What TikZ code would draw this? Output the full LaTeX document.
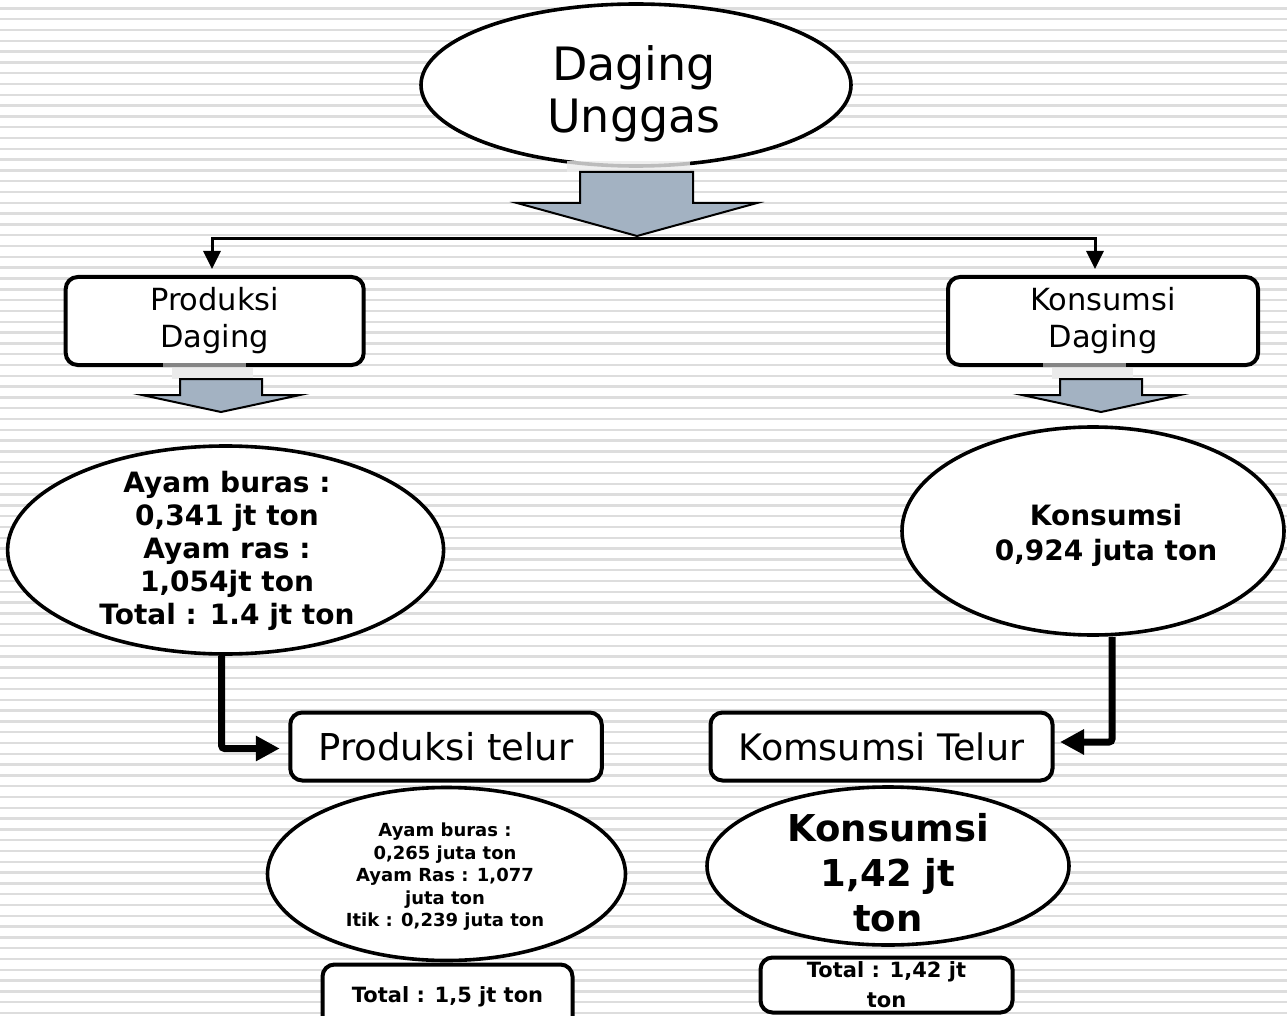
\documentclass[tikz,border=0pt]{standalone}
\usepackage{fontspec}
\setmainfont{DejaVu Sans}
\usetikzlibrary{shapes.geometric,arrows.meta}
\definecolor{arrowfill}{HTML}{A3B2C2}
\definecolor{stripecol}{HTML}{DDDDDD}
\definecolor{shadelight}{HTML}{EBEBEB}
\definecolor{shadedark}{HTML}{858585}
\begin{document}
\begin{tikzpicture}[x=1pt,y=-1pt,
  ell/.style={ellipse,draw=black,line width=3.6pt,fill=white,inner sep=0pt},
  box/.style={rectangle,rounded corners=12pt,draw=black,line width=4pt,fill=white,inner sep=0pt,align=center},
  txt/.style={align=center,inner sep=0pt},
  conn/.style={draw=black,line width=3pt,-{Triangle[length=18pt,width=17pt]}},
  elbow/.style={draw=black,line width=7pt,rounded corners=3pt,-{Triangle[length=24pt,width=24pt]}},
  blockarrow/.style={fill=arrowfill,draw=black,line width=2pt,line join=miter},
  stripe/.style={stripecol,line width=2.4pt}]
\useasboundingbox (0,0) rectangle (1287,1016);
\clip (0,0) rectangle (1287,1016);
\fill[white] (0,0) rectangle (1287,1016);
\foreach \i in {0,...,94}{\draw[stripe] (0,8.5+10.8*\i) -- (1287,8.5+10.8*\i);}

% title
\node[ell,minimum width=430pt,minimum height=162pt] (top) at (636,85) {};
\node[txt,font=\fontsize{46}{52}\selectfont] (toptxt) at (634,94) {Daging\\Unggas};
\fill[shadelight,opacity=0.8] (567,161) rectangle (690,172);
\draw[blockarrow] (580,172) -- (693,172) -- (693,203) -- (757,203) -- (637,236) -- (517,203) -- (580,203) -- cycle;
\coordinate (split) at (637,239);

% second level boxes
\node[box,minimum width=298pt,minimum height=88pt,font=\fontsize{30.5}{37}\selectfont] (pd) at (214.7,321) {Produksi\\Daging};
\node[box,minimum width=310pt,minimum height=88pt,font=\fontsize{30.5}{37}\selectfont] (kd) at (1103,321) {Konsumsi\\Daging};
\draw[conn,shorten >=6pt] (split) -| ([xshift=-2.7pt]pd.north);
\draw[conn,shorten >=6pt] (split) -| ([xshift=-8pt]kd.north);

% small block arrows
\fill[shadedark] (163,363) rectangle (246,367);
\fill[shadelight] (172,368) rectangle (253,379);
\draw[blockarrow] (180,379) -- (262,379) -- (262,395) -- (300,395) -- (221,412) -- (142,395) -- (180,395) -- cycle;
\fill[shadedark] (1043,363) rectangle (1126,367);
\fill[shadelight] (1052,368) rectangle (1133,379);
\draw[blockarrow] (1060,379) -- (1142,379) -- (1142,395) -- (1180,395) -- (1101,412) -- (1022,395) -- (1060,395) -- cycle;

% third level ellipses
\node[ell,minimum width=436pt,minimum height=208pt] (lel) at (225.6,550) {};
\node[txt,font=\fontsize{28}{33}\selectfont\bfseries] (lelt) at (227,551) {Ayam buras :\\0,341 jt ton\\Ayam ras :\\1,054jt ton\\Total : 1.4 jt ton};
\node[ell,minimum width=382pt,minimum height=208pt] (rel) at (1093,531) {};
\node[txt,font=\fontsize{28}{35}\selectfont\bfseries] (relt) at (1106,535) {Konsumsi\\0,924 juta ton};

% egg boxes
\node[box,minimum width=311.5pt,minimum height=68pt,font=\fontsize{37}{44}\selectfont] (pt) at (446,746.5) {Produksi telur};
\node[box,minimum width=342pt,minimum height=68pt,font=\fontsize{36.5}{44}\selectfont] (kt) at (881.5,746.5) {Komsumsi Telur};
\draw[elbow,shorten >=8.5pt] ([xshift=-4pt]lel.south) |- ([yshift=-2pt]pt.west);
\draw[elbow,shorten >=5.5pt] ([xshift=19pt]rel.south) |- ([yshift=4.5pt]kt.east);

% bottom ellipses
\node[ell,minimum width=358pt,minimum height=173pt] (pel) at (446.5,874) {};
\node[txt,font=\fontsize{18}{22.5}\selectfont\bfseries] (pelt) at (445,877) {Ayam buras :\\0,265 juta ton\\Ayam Ras : 1,077\\juta ton\\Itik : 0,239 juta ton};
\node[ell,minimum width=362pt,minimum height=158pt] (kel) at (888,866) {};
\node[txt,font=\fontsize{37}{45}\selectfont\bfseries] (kelt) at (888,873) {Konsumsi\\1,42 jt\\ton};

% totals
\node[box,minimum width=250pt,minimum height=64pt,font=\fontsize{21}{26}\selectfont\bfseries] (t1) at (447.5,996.5) {Total : 1,5 jt ton};
\node[box,minimum width=252pt,minimum height=55pt,font=\fontsize{21}{30}\selectfont\bfseries] (t2) at (886.5,985) {Total : 1,42 jt\\ton};
\end{tikzpicture}
\end{document}
